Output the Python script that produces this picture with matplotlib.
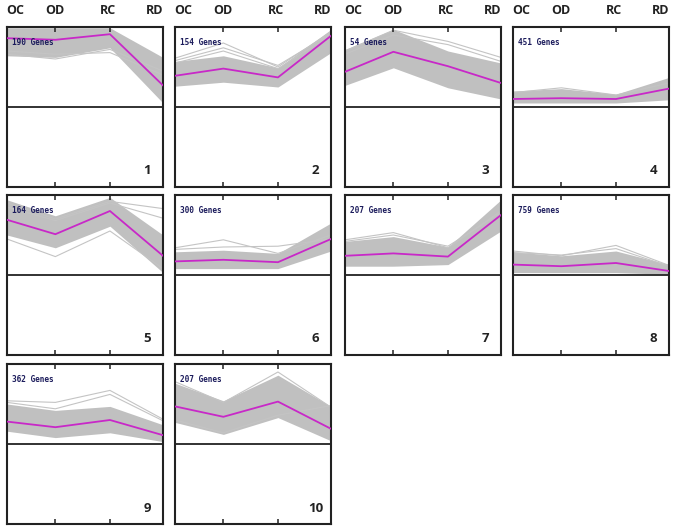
import matplotlib
matplotlib.use("Agg")
import matplotlib.pyplot as plt

conditions = ["OC", "OD", "RC", "RD"]
x_pos = [0.0, 0.31, 0.66, 1.0]
cluster_ids = [1, 2, 3, 4, 5, 6, 7, 8, 9, 10]
gene_counts = [190, 154, 54, 451, 164, 300, 207, 759, 362, 207]

# mean profile (magenta), scaled 0..1 within upper half of each panel
mean_1 = [0.86, 0.84, 0.91, 0.27]
mean_2 = [0.39, 0.48, 0.37, 0.89]
mean_3 = [0.44, 0.69, 0.51, 0.30]
mean_4 = [0.10, 0.11, 0.10, 0.23]
mean_5 = [0.69, 0.51, 0.80, 0.24]
mean_6 = [0.17, 0.19, 0.16, 0.45]
mean_7 = [0.24, 0.27, 0.23, 0.75]
mean_8 = [0.13, 0.11, 0.15, 0.05]
mean_9 = [0.28, 0.21, 0.30, 0.11]
mean_10 = [0.47, 0.34, 0.53, 0.19]

# upper / lower envelopes of the gene profiles (gray band)
upper_1 = [0.99, 0.99, 0.99, 0.62]
lower_1 = [0.64, 0.62, 0.74, 0.05]
upper_2 = [0.57, 0.64, 0.49, 0.97]
lower_2 = [0.26, 0.31, 0.25, 0.68]
upper_3 = [0.72, 0.97, 0.70, 0.55]
lower_3 = [0.27, 0.49, 0.24, 0.10]
upper_4 = [0.20, 0.23, 0.16, 0.37]
lower_4 = [0.05, 0.05, 0.05, 0.09]
upper_5 = [0.94, 0.74, 0.97, 0.50]
lower_5 = [0.50, 0.34, 0.61, 0.03]
upper_6 = [0.29, 0.31, 0.27, 0.65]
lower_6 = [0.08, 0.08, 0.08, 0.30]
upper_7 = [0.42, 0.48, 0.35, 0.94]
lower_7 = [0.11, 0.11, 0.13, 0.55]
upper_8 = [0.29, 0.24, 0.30, 0.13]
lower_8 = [0.03, 0.03, 0.03, 0.01]
upper_9 = [0.50, 0.42, 0.47, 0.24]
lower_9 = [0.16, 0.08, 0.14, 0.03]
upper_10 = [0.76, 0.54, 0.86, 0.47]
lower_10 = [0.27, 0.12, 0.33, 0.04]

# a few individual outlying gene profiles per cluster
outliers_1 = [[0.66, 0.60, 0.72, 0.45], [0.70, 0.66, 0.68, 0.40]]
outliers_2 = [[0.61, 0.80, 0.50, 0.94], [0.58, 0.74, 0.52, 0.92], [0.55, 0.70, 0.48, 0.90]]
outliers_3 = [[0.70, 0.96, 0.82, 0.62], [0.66, 0.90, 0.78, 0.57]]
outliers_4 = [[0.18, 0.24, 0.15, 0.30]]
outliers_5 = [[0.90, 0.70, 0.92, 0.83], [0.85, 0.68, 0.90, 0.71], [0.45, 0.23, 0.55, 0.08]]
outliers_6 = [[0.34, 0.44, 0.27, 0.50], [0.32, 0.35, 0.36, 0.45]]
outliers_7 = [[0.44, 0.53, 0.34, 0.80], [0.42, 0.50, 0.36, 0.78]]
outliers_8 = [[0.30, 0.24, 0.37, 0.12], [0.28, 0.25, 0.33, 0.11]]
outliers_9 = [[0.54, 0.52, 0.67, 0.31], [0.52, 0.44, 0.62, 0.29]]
outliers_10 = [[0.78, 0.52, 0.90, 0.46], [0.30, 0.14, 0.36, 0.48]]

means = [mean_1, mean_2, mean_3, mean_4, mean_5, mean_6, mean_7, mean_8, mean_9, mean_10]
uppers = [upper_1, upper_2, upper_3, upper_4, upper_5, upper_6, upper_7, upper_8, upper_9, upper_10]
lowers = [lower_1, lower_2, lower_3, lower_4, lower_5, lower_6, lower_7, lower_8, lower_9, lower_10]
outliers = [outliers_1, outliers_2, outliers_3, outliers_4, outliers_5,
            outliers_6, outliers_7, outliers_8, outliers_9, outliers_10]

W, H = 675, 530
fig = plt.figure(figsize=(W / 100, H / 100), dpi=100)
fig.patch.set_facecolor("white")

col_left = [7, 175, 345, 513]
row_top = [27, 195, 364]
pw, ph = 156, 160

def add_px_axes(left, top, w, h):
    return fig.add_axes([left / W, 1 - (top + h) / H, w / W, h / H])

for i, cid in enumerate(cluster_ids):
    r, c = divmod(i, 4)
    left, top = col_left[c], row_top[r]
    ax = add_px_axes(left, top, pw, ph)
    ax.set_xlim(0, 1)
    ax.set_ylim(-1, 1)
    ax.fill_between(x_pos, lowers[i], uppers[i], color="#c0c0c0", lw=0, zorder=1)
    for o in outliers[i]:
        ax.plot(x_pos, o, color="#c4c4c4", lw=0.8, zorder=1)
    ax.plot(x_pos, means[i], color="#c828c8", lw=1.3, zorder=3)
    ax.axhline(0, color="#222222", lw=1.3, zorder=4)
    ax.set_xticks(x_pos[1:3])
    ax.set_yticks([])
    ax.tick_params(axis="x", direction="in", length=3.5, width=1.1, color="#222222",
                   top=True, bottom=True, labelbottom=False, labeltop=False)
    for s in ax.spines.values():
        s.set_linewidth(1.5)
        s.set_color("#222222")
    ax.text(0.035, 0.905, f"{gene_counts[i]} Genes", transform=ax.transAxes,
            fontsize=5.6, family="DejaVu Sans Mono", fontweight="bold",
            color="#1c1c5c", va="center", ha="left", zorder=5)
    ax.text(0.9, 0.1, str(cid), transform=ax.transAxes, fontsize=9.5,
            fontweight="bold", family="Open Sans", color="#222222",
            ha="center", va="center", zorder=5)

label_offsets = [8, 48, 101, 148]
for c in range(4):
    for k, lab in enumerate(conditions):
        fig.text((col_left[c] + label_offsets[k]) / W, 1 - 11 / H, lab,
                 fontsize=9, fontweight="bold", family="Open Sans",
                 color="#222222", ha="center", va="center")

fig.savefig("out.png", dpi=100, facecolor="white")
